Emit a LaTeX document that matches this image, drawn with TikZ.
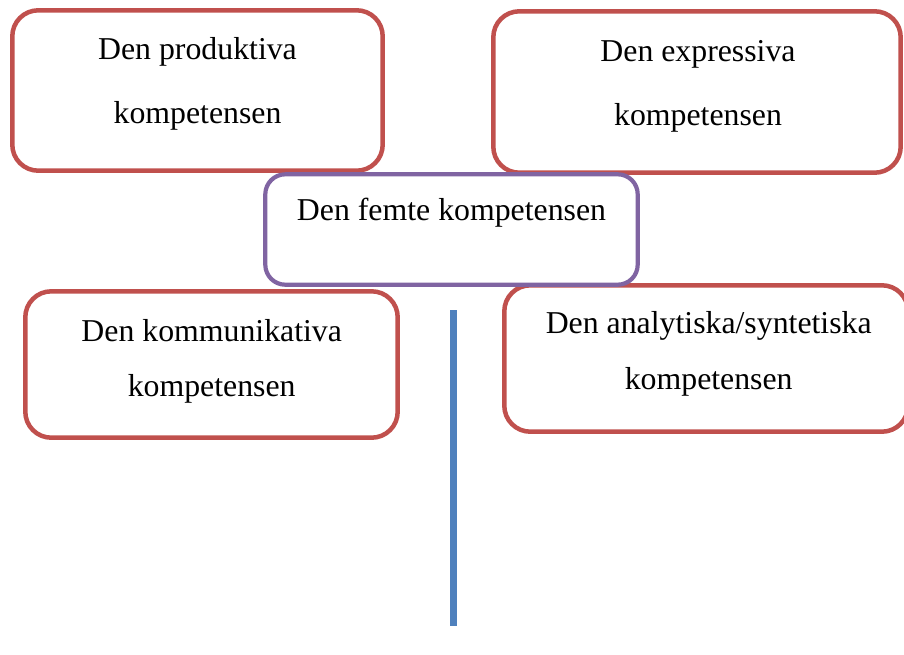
\documentclass[tikz,border=0pt]{standalone}
\usepackage{fontspec}
\setmainfont{Liberation Serif}
\definecolor{boxred}{HTML}{C0504D}
\definecolor{boxpurple}{HTML}{8064A2}
\definecolor{lineblue}{HTML}{4F81BD}
\begin{document}
\begin{tikzpicture}[x=1pt,y=-1pt,
  redbox/.style={draw=boxred,line width=4.5pt,rounded corners=26pt},
  purplebox/.style={draw=boxpurple,line width=4.2pt,rounded corners=20pt},
  lbl/.style={anchor=base,inner sep=0pt,font=\fontsize{31.8}{38}\selectfont},
  blueline/.style={draw=lineblue,line width=7pt}]
\useasboundingbox (0,0) rectangle (904,654);
% boxes
\draw[redbox] (12.3,10.3) rectangle (382.7,170.7);
\draw[redbox] (493.3,11.3) rectangle (900.7,172.7);
\draw[redbox] (25.3,291.3) rectangle (397.7,437.7);
\draw[redbox] (504.3,285.3) rectangle (908,431.7);
\draw[purplebox] (265.3,174.3) rectangle (637.7,284.7);
% texts
\node[lbl] (p1) at (197.5,59) {Den produktiva};
\node[lbl] (p2) at (197.5,123) {kompetensen};
\node[lbl] (e1) at (698,61) {Den expressiva};
\node[lbl] (e2) at (698,125) {kompetensen};
\node[lbl] (f1) at (451.5,220) {Den femte kompetensen};
\node[lbl] (k1) at (211.7,341) {Den kommunikativa};
\node[lbl] (k2) at (211.7,396) {kompetensen};
\node[lbl] (a1) at (708.7,333) {Den analytiska/syntetiska};
\node[lbl] (a2) at (708.7,389) {kompetensen};
% blue line
\coordinate (bt) at (453.5,310);
\coordinate (bb) at (453.5,626);
\draw[blueline] (bt) -- (bb);
\end{tikzpicture}
\end{document}
